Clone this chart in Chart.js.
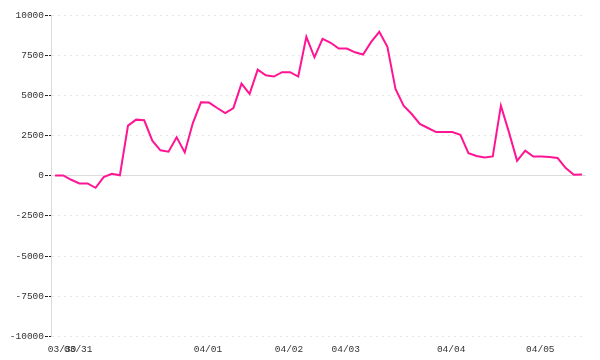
<!DOCTYPE html>
<html>
<head>
<meta charset="utf-8">
<script src="https://cdn.jsdelivr.net/npm/chart.js@4/dist/chart.umd.min.js"></script>
<style>
  html, body { margin: 0; padding: 0; background: #fff; }
  #wrap { width: 600px; height: 360px; }
</style>
</head>
<body>
<div id="wrap"><canvas id="chart"></canvas></div>
<script>
// day labels and the index of the first point of each day
const dayLabels = ['03/30', '03/31', '04/01', '04/02', '04/03', '04/04', '04/05'];
const dayStarts = [0, 2, 18, 28, 35, 48, 59];

// series values, one per point
const values = [
  20, 20, -250, -480, -480, -750, -80, 125, 30, 3115,
  3490, 3450, 2180, 1580, 1500, 2390, 1450, 3280, 4570, 4550,
  4215, 3900, 4215, 5730, 5090, 6600, 6250, 6170, 6440, 6440,
  6170, 8640, 7370, 8520, 8270, 7910, 7910, 7680, 7540, 8330,
  8950, 8020, 5400, 4360, 3840, 3220, 2970, 2720, 2720, 2720,
  2550, 1410, 1230, 1140, 1200, 4360, 2700, 930, 1560, 1200,
  1200, 1160, 1100, 480, 60, 80
];

const yTicks = [-10000, -7500, -5000, -2500, 0, 2500, 5000, 7500, 10000];

// one category per point, named after the day it belongs to
let labels = [];
for (let i = 0; i < values.length; i++) {
  let d = 0;
  for (let j = 0; j < dayStarts.length; j++) {
    if (i >= dayStarts[j]) d = j;
  }
  labels.push(dayLabels[d]);
}

const font = { family: '"Liberation Mono", "DejaVu Sans Mono", monospace', size: 9.5 };

new Chart(document.getElementById('chart'), {
  type: 'line',
  data: {
    labels: labels,
    datasets: [{
      data: values,
      borderColor: '#ff1493',
      backgroundColor: 'transparent',
      borderWidth: 2,
      pointRadius: 0,
      tension: 0
    }]
  },
  options: {
    responsive: true,
    maintainAspectRatio: false,
    animation: false,
    layout: { padding: { left: 0, right: 14, top: 15, bottom: 0 } },
    plugins: { legend: { display: false }, tooltip: { enabled: false } },
    scales: {
      x: {
        type: 'category',
        offset: true,
        grid: { display: false, drawTicks: false },
        border: { display: false },
        afterFit: s => { s.height = 23.5; },
        ticks: {
          autoSkip: false,
          maxRotation: 0,
          padding: 7,
          labelOffset: 7,
          color: '#333',
          font: font,
          callback: function (val, i) {
            const k = dayStarts.indexOf(i);
            return k >= 0 ? dayLabels[k] : '';
          }
        }
      },
      y: {
        min: -10000,
        max: 10000,
        afterFit: s => { s.width = 51; },
        afterBuildTicks: s => { s.ticks = yTicks.map(v => ({ value: v })); },
        grid: {
          color: ctx => (ctx.tick && ctx.tick.value === 0) ? '#dcdcdc' : '#e6e6e6',
          lineWidth: 1,
          tickLength: 6,
          tickColor: '#222',
          tickBorderDash: [3, 1]
        },
        border: {
          display: true,
          color: '#dcdcdc',
          width: 1,
          dash: ctx => (ctx.tick && ctx.tick.value === 0) ? [] : [2, 4]
        },
        ticks: {
          padding: 1,
          color: '#333',
          font: font,
          callback: v => String(v)
        }
      }
    }
  }
});
</script>
</body>
</html>
